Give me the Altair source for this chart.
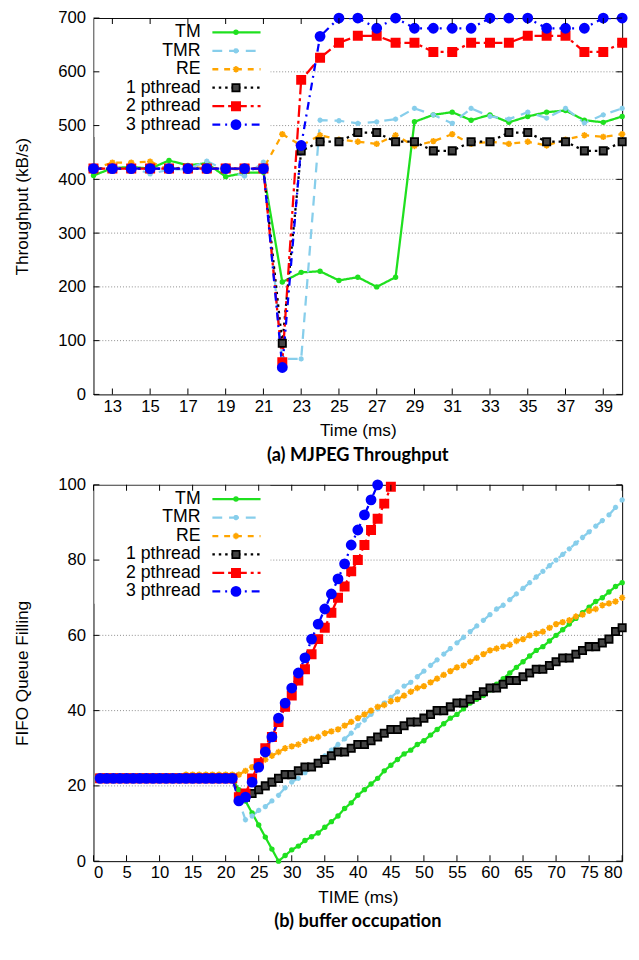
import altair as alt
import pandas as pd

SERIES = ["TM", "TMR", "RE", "1 pthread", "2 pthread", "3 pthread"]
COLORS = ["#1fe01f", "#87ceeb", "#ffa500", "#000000", "#ff0000", "#0000ff"]
DASHES = [[1, 0], [10, 7], [6, 6], [2.5, 4], [12, 4, 3, 4], [8, 5, 2, 5]]
ASTERISK = "M-1,0L1,0M0,-1L0,1M-0.7,-0.7L0.7,0.7M-0.7,0.7L0.7,-0.7"
SHAPES = ["circle", ASTERISK, ASTERISK, "square", "square", "circle"]
FILLS = ["#1fe01f", "transparent", "transparent", "#444444", "#ff0000", "#0000ff"]
SIZES = [16, 81, 64, 40, 42, 56]
STROKES = [1.5, 2, 3, 3, 1, 2]
FONT = "Liberation Sans, Arial, Helvetica, sans-serif"
W, H = 538, 383

# ---------------- (a) MJPEG Throughput ----------------
a_time = list(range(12, 41))
a_TM = [407, 421, 423, 420, 435, 426, 430, 405, 412, 413, 209, 227, 229, 212, 218,
        200, 218, 507, 520, 525, 510, 520, 506, 517, 525, 528, 510, 506, 517]
a_TMR = [420, 420, 423, 410, 418, 419, 434, 417, 406, 432, 66, 66, 510, 509, 504,
         507, 512, 532, 520, 504, 532, 517, 512, 525, 514, 532, 505, 520, 532]
a_RE = [420, 431, 431, 433, 418, 424, 420, 420, 418, 420, 484, 463, 482, 474, 470,
        466, 482, 462, 471, 484, 466, 470, 466, 470, 463, 474, 482, 479, 484]
a_1p = [420, 420, 420, 420, 420, 420, 420, 420, 420, 420, 95, 453, 470, 470, 487,
        487, 470, 470, 453, 453, 470, 470, 487, 487, 470, 470, 453, 453, 470]
a_2p = [420, 420, 420, 420, 420, 420, 420, 420, 420, 420, 60, 585, 626, 654, 667,
        667, 654, 654, 637, 637, 654, 654, 654, 667, 667, 667, 637, 637, 654]
a_3p = [420, 420, 420, 420, 420, 420, 420, 420, 420, 420, 50, 463, 666, 700, 700,
        681, 700, 681, 681, 681, 681, 700, 700, 700, 681, 681, 681, 700, 700]
a_xticks = [13, 15, 17, 19, 21, 23, 25, 27, 29, 31, 33, 35, 37, 39]
a_yticks = [0, 100, 200, 300, 400, 500, 600, 700]

# ---------------- (b) buffer occupation ----------------
b_time = list(range(1, 81))
b_TM = [22] * 21 + [19, 16, 12.8, 9.6, 6.4, 3.2, 0,
                    1.5, 3, 4, 5.5, 6.5, 7.5, 9, 10.5, 12, 14, 15.5, 17.5, 19, 20.5, 22, 24,
                    25.5, 27, 28.5, 29.5, 31, 32, 33.5, 35, 36.5, 38, 39, 40.5, 42, 43, 44,
                    45.5, 47, 48.5, 50, 51.5, 53, 54.5, 56, 57, 58.5, 60, 61.5, 63, 64.5, 66,
                    67.5, 69, 70, 71.5, 73, 74]
b_TMR = [22] * 21 + [16, 11, 12, 13.5, 14.5, 16, 17.5, 19.5, 21, 22, 23.5, 25, 26.5, 28,
                     29.5, 31, 32.5, 34, 36, 37.5, 39, 40.5, 42, 43.5, 45, 46.5, 47.5, 49,
                     50.5, 52, 53.5, 55, 56.5, 58, 59.5, 61, 62.5, 64, 65.5, 67, 68, 69.5,
                     71, 72.5, 74, 75.5, 77, 78.5, 80, 81.5, 83, 84.5, 86, 87.5, 89, 90.5,
                     92, 94, 96]
b_RE = [22] * 13 + [23] * 8 + [23, 24, 25, 26.5, 27, 28, 29, 30, 30.5, 31, 32, 32.5, 33,
                               34, 34.5, 35, 36, 37, 38, 39, 40, 41, 41.5, 42.5, 43, 44,
                               45, 46, 46.5, 47.5, 48.5, 49.5, 50.5, 51.5, 52, 53, 54, 55,
                               56, 56.5, 57, 57.5, 58.5, 59, 60, 60.5, 61, 62, 63, 63.5,
                               64, 65, 65.5, 66.5, 67, 68, 68.5, 69, 70]
b_1p = [22] * 21 + [17, 17, 18, 19, 20, 21, 22, 23, 23, 24, 25, 25, 26, 27, 28, 29, 29,
                    30, 31, 31, 32, 33, 34, 35, 35, 36, 37, 37, 38, 39, 40, 40, 41, 42, 42,
                    43, 44, 45, 46, 46, 47, 48, 48, 49, 50, 51, 51, 52, 53, 54, 54, 55, 56,
                    57, 57, 58, 59, 61, 62]
b_2p = [22] * 21 + [17, 18, 22, 26, 30, 33, 37, 41, 44, 48, 51, 55, 59, 62, 66, 70, 73,
                    77, 80, 84, 88, 91, 95, 99.5]
b_3p = [22] * 21 + [16, 17, 21, 25, 29, 33, 38, 42, 46, 50, 54, 59, 63, 67, 71, 75, 79,
                    84, 88, 92, 96, 100]
b_xticks = [0, 5, 10, 15, 20, 25, 30, 35, 40, 45, 50, 55, 60, 65, 70, 75, 80]
b_yticks = [0, 20, 40, 60, 80, 100]


def long_table(time, cols):
    rows = []
    for name, vals in zip(SERIES, cols):
        for t, v in zip(time, vals):
            rows.append({"t": t, "v": v, "series": name})
    return pd.DataFrame(rows)


def panel(df, xdom, xticks, ydom, yticks, xtitle, ytitle, caption):
    xs = alt.Scale(domain=xdom, nice=False, zero=False)
    ys = alt.Scale(domain=ydom, nice=False, zero=False)
    col = alt.Color("series:N", scale=alt.Scale(domain=SERIES, range=COLORS), legend=None)
    dash = alt.StrokeDash("series:N", scale=alt.Scale(domain=SERIES, range=DASHES), legend=None)
    shp = alt.Shape("series:N", scale=alt.Scale(domain=SERIES, range=SHAPES), legend=None)
    fil = alt.Fill("series:N", scale=alt.Scale(domain=SERIES, range=FILLS), legend=None)
    siz = alt.Size("series:N", scale=alt.Scale(domain=SERIES, range=SIZES), legend=None)
    sw = alt.StrokeWidth("series:N", scale=alt.Scale(domain=SERIES, range=STROKES), legend=None)

    x_axis = alt.Axis(values=xticks, title=xtitle, ticks=False, domain=False, grid=False,
                      labelPadding=4, titlePadding=8, labelOverlap=False, labelFlush=True)
    y_axis = alt.Axis(values=yticks, title=ytitle, ticks=False, domain=False, grid=False,
                      labelPadding=8, titlePadding=27, labelOverlap=False)
    X = alt.X("t:Q", scale=xs, axis=x_axis)
    Y = alt.Y("v:Q", scale=ys, axis=y_axis)

    grid = alt.Chart(pd.DataFrame({"v": yticks[1:-1]})).mark_rule(
        color="#8c8c8c", strokeWidth=1, strokeDash=[1, 2]
    ).encode(y=Y)

    lines = alt.Chart(df).mark_line(strokeWidth=2.3, clip=True).encode(
        x=X, y=Y, color=col, strokeDash=dash)

    pts = alt.Chart(df).mark_point(filled=False, opacity=1).encode(
        x=X, y=Y, color=col, shape=shp, fill=fil, size=siz, strokeWidth=sw)

    main = alt.layer(grid, lines, pts)

    ldf = pd.DataFrame({"series": SERIES})
    ly = alt.Y("series:N", scale=alt.Scale(type="point", domain=SERIES,
                                           range=[14.5, 108.5], padding=0), axis=None)
    box = alt.Chart(pd.DataFrame({"b": [0]})).mark_rect(color="white").encode(
        x=alt.value(1), x2=alt.value(180), y=alt.value(1), y2=alt.value(121))
    ltxt = alt.Chart(ldf).mark_text(align="right", baseline="middle", font=FONT,
                                    fontSize=18, color="black").encode(
        x=alt.value(109), y=ly, text="series:N")
    lrule = alt.Chart(ldf).mark_rule(strokeWidth=2.3).encode(
        x=alt.value(121), x2=alt.value(170), y=ly, color=col, strokeDash=dash)
    lpt = alt.Chart(ldf).mark_point(filled=False, opacity=1).encode(
        x=alt.value(145), y=ly, color=col, shape=shp, fill=fil, size=siz, strokeWidth=sw)
    legend = alt.layer(box, ltxt, lrule, lpt)

    # inward tick marks on all four sides of the frame
    xt = alt.Chart(pd.DataFrame({"t": xticks}))
    yt = alt.Chart(pd.DataFrame({"v": yticks}))
    ty = alt.Y("v:Q", scale=ys, axis=None)
    tick_style = dict(size=6, thickness=1, color="black", opacity=1)
    ticks = alt.layer(
        xt.mark_tick(orient="vertical", **tick_style).encode(x=X, y=alt.value(H - 3)),
        xt.mark_tick(orient="vertical", **tick_style).encode(x=X, y=alt.value(3)),
        yt.mark_tick(orient="horizontal", **tick_style).encode(y=ty, x=alt.value(3)),
        yt.mark_tick(orient="horizontal", **tick_style).encode(y=ty, x=alt.value(W - 3)),
    )

    return alt.layer(main, legend, ticks).resolve_scale(y="independent").properties(
        width=W, height=H,
        title=alt.TitleParams(caption, orient="bottom", anchor="middle", offset=7,
                              font="Lato", fontSize=18.5, fontWeight="bold", color="black"))


pa = panel(long_table(a_time, [a_TM, a_TMR, a_RE, a_1p, a_2p, a_3p]),
           [12, 40], a_xticks, [0, 700], a_yticks,
           "Time (ms)", "Throughput (kB/s)", "(a) MJPEG Throughput")
pb = panel(long_table(b_time, [b_TM, b_TMR, b_RE, b_1p, b_2p, b_3p]),
           [0, 80], b_xticks, [0, 100], b_yticks,
           "TIME (ms)", "FIFO Queue Filling", "(b) buffer occupation")

chart = alt.vconcat(pa, pb, spacing=10).properties(
    padding={"left": 5, "top": -8, "right": 0, "bottom": 0}
).configure_view(stroke="black", strokeWidth=1).configure_axis(
    labelFont=FONT, labelFontSize=17, labelColor="black",
    titleFont=FONT, titleFontSize=17.5, titleFontWeight="normal",
    titleColor="black")

chart.save("out.html", embed_options={"renderer": "svg", "actions": False})
